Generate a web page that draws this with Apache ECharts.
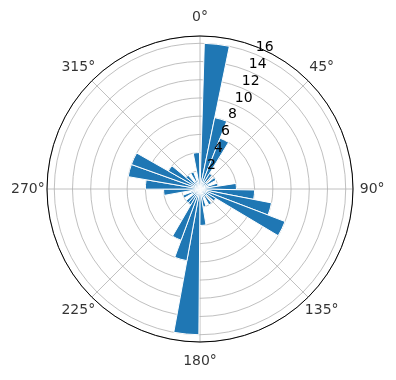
<!DOCTYPE html>
<html><head><meta charset="utf-8">
<script src="https://cdn.jsdelivr.net/npm/echarts@6/dist/echarts.min.js"></script>
<style>html,body{margin:0;padding:0;background:#fff}#c{width:396px;height:380px}</style>
</head><body><div id="c"></div>
<script>
// Histogram bins (degrees, clockwise from north)
const binStartDeg = 1.7;
const binWidthDeg = 9.93;
// counts per bin, starting at binStartDeg and going clockwise
const counts = [16, 8, 6, 2, 1, 2, 1, 2, 4, 6, 8, 10, 2, 1, 2, 1, 2, 4,
                16, 8, 6, 2, 2, 1, 2, 1, 4, 6, 8, 8, 4, 2, 1, 2, 1, 4];
const angleTicks = [0, 45, 90, 135, 180, 225, 270, 315];
const radiusTicks = [2, 4, 6, 8, 10, 12, 14, 16];
const rMax = 16.8;
const angleLabelR = 18.9; // radial position of the angle tick labels, in data units

const barData = counts.map((c, i) => [c, binStartDeg + i * binWidthDeg, binStartDeg + (i + 1) * binWidthDeg]);
const angleLabelData = angleTicks.map(a => [angleLabelR, a]);

const chart = echarts.init(document.getElementById('c'), null, {renderer: 'canvas'});
const font = 'DejaVu Sans';
const center = [200, 189];
const radius = 153;
chart.setOption({
  animation: false,
  backgroundColor: '#fff',
  polar: [
    {center: center, radius: radius},
    {center: center, radius: radius}
  ],
  angleAxis: [
    {
      polarIndex: 0, type: 'value', min: 0, max: 360, interval: 45,
      startAngle: 90, clockwise: true, z: 1,
      axisLine: {show: true, lineStyle: {color: '#000', width: 1}},
      axisTick: {show: false},
      splitLine: {show: true, lineStyle: {color: '#b0b0b0', width: 0.8}},
      axisLabel: {show: false}
    },
    {
      polarIndex: 1, type: 'value', min: 0, max: 360, startAngle: 67.5, clockwise: true, show: false
    }
  ],
  radiusAxis: [
    {
      polarIndex: 0, type: 'value', min: 0, max: rMax, interval: 2, z: 0,
      axisLine: {show: false}, axisTick: {show: false}, axisLabel: {show: false},
      splitLine: {show: true, lineStyle: {color: '#b0b0b0', width: 0.8}}
    },
    {
      polarIndex: 1, type: 'value', min: 0, max: rMax, interval: 2, z: 10,
      axisLine: {show: false}, axisTick: {show: false}, splitLine: {show: false},
      axisLabel: {
        show: true, margin: 0, align: 'left', verticalAlign: 'bottom',
        color: '#000', fontFamily: font, fontSize: 14,
        formatter: v => radiusTicks.indexOf(v) >= 0 ? String(v) : ''
      }
    }
  ],
  series: [{
    type: 'custom',
    coordinateSystem: 'polar',
    polarIndex: 0,
    z: 5,
    data: barData,
    encode: {radius: 0, angle: [1, 2]},
    renderItem: function (params, api) {
      const r = api.value(0), a0 = api.value(1), a1 = api.value(2);
      const p0 = api.coord([r, a0]);
      const p1 = api.coord([r, a1]);
      const cs = params.coordSys;
      return {
        type: 'sector',
        shape: {cx: cs.cx, cy: cs.cy, r0: 0, r: p0[2], startAngle: -p0[3], endAngle: -p1[3], clockwise: true},
        style: {fill: '#1f77b4', stroke: '#ffffff', lineWidth: 1}
      };
    }
  }, {
    type: 'scatter',
    coordinateSystem: 'polar',
    polarIndex: 0,
    clip: false,
    symbolSize: 0,
    silent: true,
    z: 10,
    data: angleLabelData,
    label: {
      show: true, position: 'inside', align: 'center', verticalAlign: 'middle',
      color: '#000', fontFamily: font, fontSize: 14,
      formatter: p => p.value[1] + '°'
    }
  }]
});
</script></body></html>
